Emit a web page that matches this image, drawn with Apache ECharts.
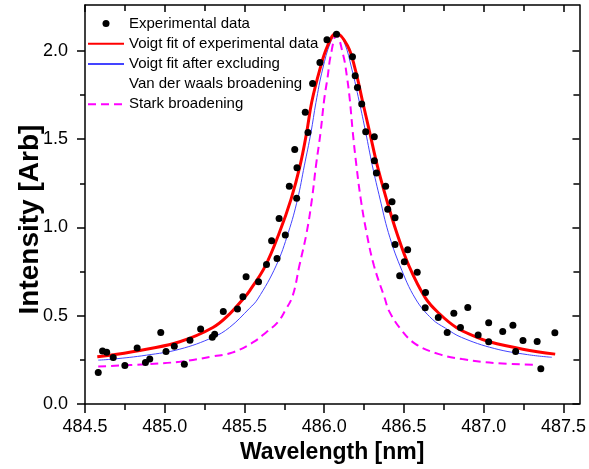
<!DOCTYPE html>
<html>
<head>
<meta charset="utf-8">
<script src="https://cdn.jsdelivr.net/npm/echarts@6/dist/echarts.min.js"></script>
<style>html,body{margin:0;padding:0;background:#fff;}#c{width:589px;height:469px;}</style>
</head>
<body>
<div id="c"></div>
<script>
// Experimental data points
var expX = [484.583,484.610,484.636,484.677,484.750,484.827,484.879,484.906,484.975,485.008,485.060,485.123,485.158,485.225,485.298,485.313,485.367,485.456,485.490,485.510,485.588,485.638,485.670,485.704,485.717,485.756,485.781,485.815,485.829,485.827,485.881,485.898,485.927,485.973,486.017,486.077,486.177,486.194,486.208,486.235,486.260,486.314,486.314,486.327,486.385,486.398,486.425,486.444,486.444,486.473,486.502,486.523,486.583,486.635,486.633,486.715,486.771,486.8125,486.854,486.900,486.965,487.031,487.031,487.119,487.183,487.200,487.246,487.335,487.358,487.446];
var expY = [0.179,0.300,0.293,0.264,0.219,0.317,0.236,0.255,0.406,0.298,0.328,0.226,0.362,0.425,0.378,0.396,0.525,0.538,0.608,0.721,0.693,0.791,0.925,0.825,1.051,0.957,1.233,1.442,1.338,1.166,1.652,1.538,1.816,1.935,2.063,2.095,1.967,1.859,1.793,1.699,1.542,1.514,1.378,1.308,1.233,1.104,1.146,1.055,0.904,0.727,0.806,0.874,0.746,0.632,0.545,0.491,0.406,0.514,0.434,0.547,0.391,0.461,0.353,0.411,0.447,0.298,0.360,0.355,0.200,0.404];

// Voigt fit of experimental data (red)
var voigtX = [484.577,484.677,484.885,485.094,485.302,485.406,485.494,485.531,485.631,485.719,485.792,485.848,485.890,485.921,485.973,486.021,486.075,486.146,486.194,486.240,486.285,486.333,486.390,486.454,486.531,486.635,486.724,486.828,486.940,487.036,487.245,487.448];
var voigtY = [0.268,0.279,0.311,0.353,0.434,0.510,0.598,0.640,0.783,0.972,1.161,1.349,1.539,1.708,1.897,2.029,2.100,2.029,1.897,1.715,1.539,1.349,1.161,0.972,0.783,0.600,0.510,0.434,0.385,0.353,0.311,0.283];

// Voigt fit after excluding (blue)
var exclX = [484.583,484.677,484.885,485.094,485.302,485.406,485.531,485.583,485.698,485.775,485.833,485.875,485.917,485.948,485.990,486.040,486.080,486.125,486.173,486.219,486.260,486.302,486.350,486.402,486.475,486.573,486.677,486.760,486.860,487.066,487.275,487.427];
var exclY = [0.249,0.255,0.277,0.311,0.378,0.434,0.542,0.595,0.783,0.972,1.161,1.349,1.539,1.708,1.897,2.050,2.100,2.050,1.897,1.715,1.539,1.349,1.161,0.972,0.783,0.595,0.481,0.430,0.378,0.315,0.280,0.265];

// Stark broadening (magenta dashed)
var starkX = [484.583,484.885,485.094,485.302,485.427,485.552,485.635,485.708,485.754,485.802,485.844,485.890,485.923,485.948,485.977,486.000,486.021,486.040,486.077,486.120,486.143,486.160,486.179,486.202,486.229,486.265,486.312,486.381,486.406,486.479,486.573,486.719,486.865,487.073,487.323];
var starkY = [0.213,0.226,0.240,0.270,0.293,0.349,0.406,0.463,0.528,0.613,0.783,0.972,1.161,1.349,1.539,1.727,1.850,1.972,2.090,1.972,1.850,1.727,1.539,1.349,1.161,0.972,0.783,0.595,0.528,0.425,0.340,0.283,0.255,0.232,0.223];

// Ticks
var xMajor = [484.5,485.0,485.5,486.0,486.5,487.0,487.5];
var xMinor = [484.75,485.25,485.75,486.25,486.75,487.25];
var yMajor = [0,0.5,1.0,1.5,2.0];
var yMinor = [0.25,0.75,1.25,1.75];

function zip(a,b){var r=[];for(var i=0;i<a.length;i++)r.push([a[i],b[i]]);return r;}

var FONT = "'Liberation Sans', Arial, sans-serif";
var X_MIN = 484.5, X_MAX = 487.6, Y_MIN = 0, Y_MAX = 2.26;

function xAx(pos, ticks, len, inside, showLine, label, extra){
  var o = {
    type:'value', position:pos, min:X_MIN, max:X_MAX,
    axisLine:{show:showLine, onZero:false, lineStyle:{color:'#000', width:1.5}},
    axisTick:{show:true, customValues:ticks, length:len, inside:inside, lineStyle:{color:'#000', width:1.5}},
    axisLabel: label ? {show:true, customValues:ticks, formatter:function(v){return v.toFixed(1);}, fontSize:18, color:'#000', margin:14, fontFamily:FONT} : {show:false},
    splitLine:{show:false}, minorTick:{show:false}
  };
  if(extra) for(var k in extra) o[k]=extra[k];
  return o;
}
function yAx(pos, ticks, len, inside, showLine, label, extra){
  var o = {
    type:'value', position:pos, min:Y_MIN, max:Y_MAX,
    axisLine:{show:showLine, onZero:false, lineStyle:{color:'#000', width:1.5}},
    axisTick:{show:true, customValues:ticks, length:len, inside:inside, lineStyle:{color:'#000', width:1.5}},
    axisLabel: label ? {show:true, customValues:ticks, formatter:function(v){return v.toFixed(1);}, fontSize:18, color:'#000', margin:17, fontFamily:FONT} : {show:false},
    splitLine:{show:false}, minorTick:{show:false}
  };
  if(extra) for(var k in extra) o[k]=extra[k];
  return o;
}

var hideSym = {opacity:0};
var chart = echarts.init(document.getElementById('c'), null, {renderer:'canvas'});
chart.setOption({
  animation:false,
  backgroundColor:'#fff',
  grid:{left:85, right:8, top:5, bottom:64, containLabel:false},
  legend:{
    orient:'vertical', left:87, top:16, padding:0, itemGap:5.2, itemWidth:36, itemHeight:7,
    selectedMode:false,
    textStyle:{fontSize:15, color:'#000', fontFamily:FONT, lineHeight:15},
    data:[
      {name:'Experimental data', icon:'circle', itemStyle:{color:'#000', opacity:1}},
      {name:'Voigt fit of experimental data', itemStyle:hideSym},
      {name:'Voigt fit after excluding', itemStyle:hideSym},
      {name:'Van der waals broadening', icon:'none'},
      {name:'Stark broadening', itemStyle:hideSym}
    ]
  },
  xAxis:[
    xAx('bottom', xMajor, 9, false, true, true, {
      name:'Wavelength [nm]', nameLocation:'middle', nameGap:36,
      nameTextStyle:{fontSize:23, fontWeight:'bold', color:'#000', fontFamily:FONT}
    }),
    xAx('bottom', xMinor, 6, false, false, false),
    xAx('top', xMajor, 7, true, true, false),
    xAx('top', xMinor, 6, true, false, false)
  ],
  yAxis:[
    yAx('left', yMajor, 8, false, true, true, {
      name:'Intensity [Arb]', nameLocation:'middle', nameGap:41, nameMoveOverlap:false,
      nameTextStyle:{fontSize:28, fontWeight:'bold', color:'#000', fontFamily:FONT, padding:[0,30,0,0]}
    }),
    yAx('left', yMinor, 5, false, false, false),
    yAx('right', yMajor, 7, true, true, false),
    yAx('right', yMinor, 6, true, false, false)
  ],
  series:[
    {name:'Voigt fit of experimental data', type:'line', data:zip(voigtX,voigtY), smooth:0.4, symbol:'none', showSymbol:false,
     lineStyle:{color:'#ff0000', width:3}, itemStyle:{color:'#ff0000'}, z:3},
    {name:'Voigt fit after excluding', type:'line', data:zip(exclX,exclY), smooth:0.4, symbol:'none', showSymbol:false,
     lineStyle:{color:'#4444ff', width:1}, itemStyle:{color:'#4444ff'}, z:2},
    {name:'Van der waals broadening', type:'line', data:[], symbol:'none', lineStyle:{color:'#000', width:0}, itemStyle:{color:'#000'}},
    {name:'Stark broadening', type:'line', data:zip(starkX,starkY), smooth:0.4, symbol:'none', showSymbol:false,
     lineStyle:{color:'#ff00ff', width:2, type:[8,5]}, itemStyle:{color:'#ff00ff'}, z:2},
    {name:'Experimental data', type:'scatter', data:zip(expX,expY), symbol:'circle', symbolSize:7,
     itemStyle:{color:'#000', opacity:1}, z:5}
  ]
});
</script>
</body>
</html>
